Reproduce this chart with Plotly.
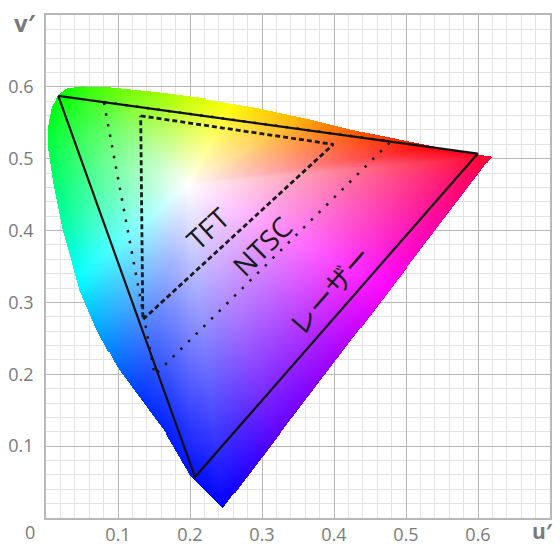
import base64
import struct
import zlib

import numpy as np
import plotly.graph_objects as go

# Spectral locus outline (u', v')
LOCUS_U = [0.246, 0.200, 0.165, 0.128, 0.0986, 0.0708, 0.047, 0.0236, 0.0097, 0.003,
           0.003, 0.008, 0.018, 0.029, 0.050, 0.085, 0.154, 0.224, 0.293, 0.3625,
           0.432, 0.501, 0.571, 0.619]
LOCUS_V = [0.014, 0.060, 0.120, 0.170, 0.210, 0.261, 0.3167, 0.400, 0.469, 0.515,
           0.545, 0.572, 0.589, 0.597, 0.600, 0.599, 0.592, 0.583, 0.571, 0.556,
           0.539, 0.525, 0.511, 0.503]
WHITE_U, WHITE_V = 0.197, 0.464

# Gamut triangles (G, R, B corners)
LASER_U = [0.017, 0.5995, 0.207]
LASER_V = [0.5875, 0.507, 0.057]
NTSC_U = [0.0803, 0.479, 0.151]
NTSC_V = [0.5788, 0.524, 0.199]
TFT_U = [0.1315, 0.399, 0.1345]
TFT_V = [0.5597, 0.520, 0.276]

LABELS = ["TFT", "NTSC", "レーザー"]
LABEL_U = [0.225, 0.2996, 0.394]
LABEL_V = [0.403, 0.379, 0.3167]
LABEL_ANGLE = [-42.6, -44.7, -48.9]
LABEL_SIZE = [28, 28, 27]

TICKS = [0.1, 0.2, 0.3, 0.4, 0.5, 0.6]
TICK_TEXT = ["0.1", "0.2", "0.3", "0.4", "0.5", "0.6"]

# hue seen at the rim, by direction (deg) from the white point
RIM_ANGLE = [-190.5, -161, -134.6, -117.5, -102, -83.8, -70.8, -50.8, -27, -8.7,
             1.6, 5.3, 11.4, 18, 31, 65.4, 88.6, 126, 145, 169.5, 199]
RIM_HUE = [140, 160, 185, 206, 228, 240, 262, 278, 300, 322,
           338, 350, 368, 382, 402, 422, 432, 455, 480, 500, 520]

AXIS_MAX = 0.7
STEP = 0.0014

TEXT_GRAY = "#7a7a7a"
FONT = "Open Sans, Noto Sans CJK JP, sans-serif"


def inside_polygon(px, py, xs, ys):
    """Even-odd ray casting test, vectorised over a grid."""
    res = np.zeros(px.shape, dtype=bool)
    n = len(xs)
    j = n - 1
    for i in range(n):
        xi, yi, xj, yj = xs[i], ys[i], xs[j], ys[j]
        if yi != yj:
            cross = ((yi > py) != (yj > py)) & (px < (xj - xi) * (py - yi) / (yj - yi) + xi)
            res ^= cross
        j = i
    return res


def boundary_distance(px, py, xs, ys, wx, wy):
    """Distance from the white point to the outline along the ray through each pixel."""
    dx, dy = px - wx, py - wy
    norm = np.hypot(dx, dy) + 1e-12
    dx, dy = dx / norm, dy / norm
    best = np.full(px.shape, np.inf)
    n = len(xs)
    for i in range(n):
        ax, ay = xs[i], ys[i]
        bx, by = xs[(i + 1) % n], ys[(i + 1) % n]
        ex, ey = bx - ax, by - ay
        den = dx * ey - dy * ex
        den = np.where(np.abs(den) < 1e-12, 1e-12, den)
        t = ((ax - wx) * ey - (ay - wy) * ex) / den
        s = ((ax - wx) * dy - (ay - wy) * dx) / den
        ok = (s >= 0) & (s <= 1) & (t > 0)
        best = np.where(ok & (t < best), t, best)
    return norm, best


def pure_hue(h):
    """Fully saturated, full-value RGB for hue h in degrees."""
    h = (h % 360) / 60.0

    def f(k0):
        k = (k0 + h) % 6
        return 1 - np.clip(np.minimum(k, 4 - k), 0, 1)
    return np.stack([f(5), f(3), f(1)], axis=-1)


def png_data_uri(rgba):
    h, w, _ = rgba.shape
    raw = b"".join(b"\x00" + rgba[r].tobytes() for r in range(h))

    def chunk(tag, data):
        body = tag + data
        return struct.pack(">I", len(data)) + body + struct.pack(">I", zlib.crc32(body) & 0xFFFFFFFF)

    png = (b"\x89PNG\r\n\x1a\n"
           + chunk(b"IHDR", struct.pack(">IIBBBBB", w, h, 8, 6, 0, 0, 0))
           + chunk(b"IDAT", zlib.compress(raw, 9))
           + chunk(b"IEND", b""))
    return "data:image/png;base64," + base64.b64encode(png).decode()


# colour fill of the chromaticity region
n = int(round(AXIS_MAX / STEP))
centres = (np.arange(n) + 0.5) * STEP
uu, vv = np.meshgrid(centres, centres)
mask = inside_polygon(uu, vv, LOCUS_U, LOCUS_V)
dist, edge = boundary_distance(uu, vv, LOCUS_U, LOCUS_V, WHITE_U, WHITE_V)
sat = np.clip(dist / edge, 0, 1)
theta = np.degrees(np.arctan2(vv - WHITE_V, uu - WHITE_U))
pure = pure_hue(np.interp(theta, RIM_ANGLE, RIM_HUE))
rgb = 1 - sat[..., None] * (1 - pure)
rgba = np.zeros((n, n, 4), dtype=np.uint8)
rgba[..., :3] = np.round(np.clip(rgb, 0, 1) * 255).astype(np.uint8)
rgba[..., 3] = np.where(mask, 255, 0)

fig = go.Figure()
fig.add_trace(go.Image(
    source=png_data_uri(rgba),
    x0=STEP / 2, dx=STEP,
    y0=STEP / 2, dy=STEP,
    hoverinfo="skip",
))


def closed(a):
    return list(a) + [a[0]]


fig.add_trace(go.Scatter(
    x=closed(NTSC_U), y=closed(NTSC_V), mode="lines", name="NTSC",
    line=dict(color="#1a1a1a", width=2.5, dash="2.5px,8.3px"),
))
fig.add_trace(go.Scatter(
    x=closed(TFT_U), y=closed(TFT_V), mode="lines", name="TFT",
    line=dict(color="#1a1a1a", width=2.8, dash="5px,3px"),
))
fig.add_trace(go.Scatter(
    x=closed(LASER_U), y=closed(LASER_V), mode="lines", name="レーザー",
    line=dict(color="#111111", width=2.2),
))

for text, u, v, ang, size in zip(LABELS, LABEL_U, LABEL_V, LABEL_ANGLE, LABEL_SIZE):
    fig.add_annotation(
        x=u, y=v, text=text, textangle=ang, showarrow=False,
        font=dict(family=FONT, size=size, color="#1a1a1a"),
    )

# corner and axis-name labels
fig.add_annotation(xref="paper", yref="paper", x=-0.018, y=0.0, text="0",
                   showarrow=False, xanchor="right", yanchor="top",
                   font=dict(family=FONT, size=18, color=TEXT_GRAY))
fig.add_annotation(xref="paper", yref="paper", x=-0.016, y=0.985, text="<b>v′</b>",
                   showarrow=False, xanchor="right", yanchor="middle",
                   font=dict(family=FONT, size=24, color=TEXT_GRAY))
fig.add_annotation(xref="paper", yref="paper", x=0.985, y=-0.026, text="<b>u′</b>",
                   showarrow=False, xanchor="center", yanchor="middle",
                   font=dict(family=FONT, size=21, color=TEXT_GRAY))

axis_style = dict(
    range=[0, AXIS_MAX],
    autorange=False,
    automargin=False,
    scaleanchor=False,
    tickmode="array",
    tickvals=TICKS,
    ticktext=TICK_TEXT,
    ticks="",
    showgrid=True,
    gridcolor="#b8b8b8",
    gridwidth=1,
    minor=dict(dtick=0.02, tick0=0, showgrid=True, gridcolor="#e3e3e3", gridwidth=1),
    showline=True,
    linecolor="#b8b8b8",
    linewidth=1.5,
    mirror=True,
    zeroline=False,
    tickfont=dict(family=FONT, size=18, color=TEXT_GRAY),
    fixedrange=True,
)

fig.update_layout(
    width=560,
    height=545,
    margin=dict(l=46, r=10, t=15, b=27),
    paper_bgcolor="white",
    plot_bgcolor="white",
    showlegend=False,
    xaxis=dict(**axis_style, ticklabelstandoff=0),
    yaxis=dict(**axis_style, ticklabelstandoff=7),
)

fig.write_html("out.html", config={"displayModeBar": False},
               post_script="document.body.style.margin='0';")
